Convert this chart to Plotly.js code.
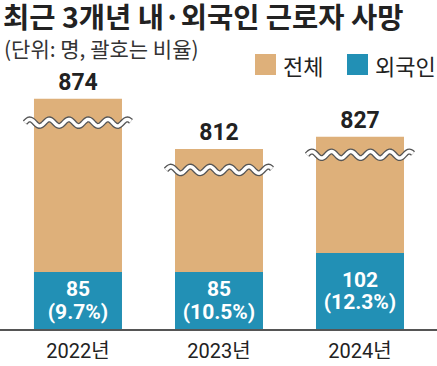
<!DOCTYPE html>
<html><head><meta charset="utf-8">
<script src="https://cdn.plot.ly/plotly-3.0.1.min.js"></script>
<style>html,body{margin:0;padding:0;background:#fff}#chart{width:437px;height:366px}</style>
</head><body><div id="chart"></div>
<script>
const years = ['2022년', '2023년', '2024년'];
const totalDeaths = [874, 812, 827];
const foreignDeaths = [85, 85, 102];
const foreignPct = [9.7, 10.5, 12.3];
const seriesNames = ['전체', '외국인'];
const seriesColors = ['#DEB07A', '#2290B5'];

const xs = years.map((_, i) => i);
const totalBase = 590, totalTop = 897;
const foreignBase = 34, foreignTop = 256.7;
const breakGapPx = [24, 21, 18];   // distance of the wavy break mark below each bar top
const num = 'Roboto, Noto Sans CJK KR, sans-serif';
const kr = 'Noto Sans CJK KR, sans-serif';

const traces = [
  {type: 'bar', x: xs, y: totalDeaths.map(v => v - totalBase), base: totalBase, yaxis: 'y',
   width: 0.624, marker: {color: seriesColors[0]}, name: seriesNames[0],
   text: totalDeaths.map(String), textposition: 'outside', cliponaxis: false,
   textfont: {family: num, size: 23, color: '#222', weight: 'bold'},
   hoverinfo: 'skip', showlegend: false},
  {type: 'bar', x: xs, y: foreignDeaths.map(v => v - foreignBase), base: foreignBase, yaxis: 'y2',
   width: 0.624, marker: {color: seriesColors[1]}, name: seriesNames[1],
   text: foreignDeaths.map((v, i) => `<span style="font-size:21px">${v}</span><br><span style="font-size:21px">(${foreignPct[i]}%)</span>`),
   textposition: 'inside', insidetextanchor: 'middle', constraintext: 'none',
   textfont: {family: 'Roboto, sans-serif', size: 17, color: '#fff', weight: 'bold'},
   hoverinfo: 'skip', showlegend: false}
];

// wavy break marks
const shapes = [];
const pxPerUnitX = 141, pxPerUnitY = 249 / (totalTop - totalBase);
totalDeaths.forEach((v, i) => {
  const yc = v - breakGapPx[i] / pxPerUnitY;
  const pts = [];
  const n = 90, halfW = 53 / pxPerUnitX, period = 19.5 / pxPerUnitX, amp = 3.3 / pxPerUnitY;
  for (let k = 0; k <= n; k++) {
    const x = i - halfW + (2 * halfW) * k / n;
    const y = yc + amp * Math.sin(2 * Math.PI * (x - (i - halfW)) / period);
    pts.push(x.toFixed(4) + ',' + y.toFixed(3));
  }
  const d = 'M' + pts.join('L');
  shapes.push({type: 'path', path: d, xref: 'x', yref: 'y', line: {color: '#555', width: 6}});
  shapes.push({type: 'path', path: d, xref: 'x', yref: 'y', line: {color: '#fff', width: 3.4}});
});
// custom legend squares
const legX = [255, 347];
legX.forEach((px, i) => {
  shapes.push({type: 'rect', xref: 'paper', yref: 'paper',
    x0: px / 437, x1: (px + 21) / 437, y0: (329 - 75) / 249, y1: (329 - 54) / 249,
    fillcolor: seriesColors[i], line: {width: 0}});
});

const annotations = [
  {text: '(단위: 명, 괄호는 비율)', xref: 'paper', yref: 'paper', x: 2 / 437, y: (329 - 48) / 249,
   xanchor: 'left', yanchor: 'middle', showarrow: false, font: {family: kr, size: 21, color: '#333'}},
];
legX.forEach((px, i) => {
  annotations.push({text: seriesNames[i], xref: 'paper', yref: 'paper', x: (px + 26) / 437, y: (329 - 65) / 249,
    xanchor: 'left', yanchor: 'middle', showarrow: false, font: {family: kr, size: 22, color: '#222'}});
});

const layout = {
  width: 437, height: 366,
  margin: {l: 0, r: 0, t: 80, b: 37},
  paper_bgcolor: '#fff', plot_bgcolor: '#fff',
  title: {text: '최근 3개년 내·외국인 근로자 사망', x: 3 / 437, xanchor: 'left', xref: 'container',
          y: 1 - 18.5 / 366, yanchor: 'middle', yref: 'container',
          font: {family: kr, size: 28.5, color: '#222', weight: 'bold'}},
  barmode: 'overlay',
  xaxis: {type: 'linear', range: [-0.553, 2.546], tickvals: xs, ticktext: years,
          showline: true, linecolor: '#555', linewidth: 2, showgrid: false, zeroline: false,
          ticks: '', ticklabelstandoff: 3, fixedrange: true,
          tickfont: {family: num, size: 20, color: '#222'}},
  yaxis: {range: [totalBase, totalTop], visible: false, fixedrange: true},
  yaxis2: {range: [foreignBase, foreignTop], overlaying: 'y', visible: false, fixedrange: true},
  shapes: shapes,
  annotations: annotations,
  showlegend: false
};

Plotly.newPlot('chart', traces, layout, {staticPlot: true});
</script>
</body></html>
